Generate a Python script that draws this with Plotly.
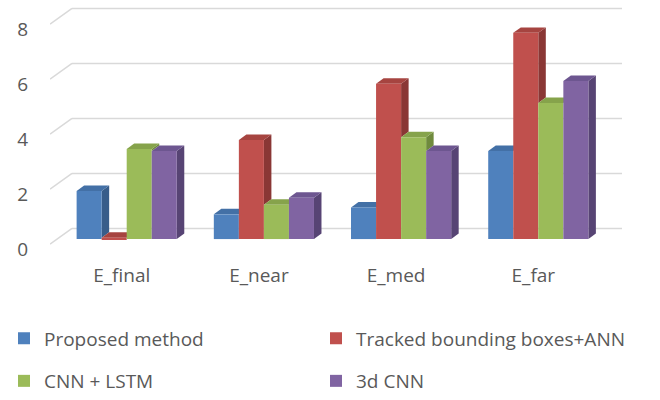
import plotly.graph_objects as go

# ---------------- data ----------------
categories = ["E_final", "E_near", "E_med", "E_far"]
series_names = ["Proposed method", "Tracked bounding boxes+ANN", "CNN + LSTM", "3d CNN"]
proposed = [1.75, 0.9, 1.15, 3.2]
tracked = [0.05, 3.6, 5.65, 7.5]
cnn_lstm = [3.28, 1.25, 3.7, 4.95]
cnn3d = [3.2, 1.5, 3.2, 5.75]
y_ticks = [0, 2, 4, 6, 8]

series_values = [proposed, tracked, cnn_lstm, cnn3d]

# ---------------- styles ----------------
front_colors = ["#4F81BD", "#C0504D", "#9BBB59", "#8064A2"]
top_colors = ["#4370A6", "#A64440", "#86A34B", "#6D5690"]
side_colors = ["#385D8A", "#8A3735", "#6F8A3D", "#574474"]
text_color = "#595959"
grid_color = "#D9D9D9"
FONT = "Open Sans"

# ---------------- geometry (pixel based) ----------------
W, H = 660, 400
ML, MR, MT = 50, 30, 0
PLOT_BOTTOM = 262
MB = H - PLOT_BOTTOM
PX_X = 137.2          # px per category unit
PX_Y = 27.6           # px per value unit
GROUP0_PX = 126.7     # pixel of first group centre
BASE_PX = 240         # pixel of bar baseline
plot_w = W - ML - MR
x0 = -(GROUP0_PX - ML) / PX_X
x_range = [x0, x0 + plot_w / PX_X]
y_range = [-(PLOT_BOTTOM - BASE_PX) / PX_Y, (BASE_PX - MT) / PX_Y]

BARGAP = 0.27
n_series = len(series_values)
bw = (1 - BARGAP) / n_series
DX = 7.5 / PX_X       # depth offset of bars
DY = 5.5 / PX_Y
FRONT_SHIFT = 5 / PX_Y     # front plane lies below bar plane
LABEL_SHIFT_Y = 10 / PX_Y  # tick label placement
BACK_SHIFT = 10.7 / PX_Y   # back wall lies above bar plane
WALL_X0 = (72 - GROUP0_PX) / PX_X
WALL_X1 = (622 - GROUP0_PX) / PX_X
LABEL_SHIFT = 5 / PX_X

xpos = list(range(len(categories)))

fig = go.Figure()
for k, (name, vals) in enumerate(zip(series_names, series_values)):
    fig.add_trace(go.Bar(
        x=xpos, y=vals, name=name,
        marker=dict(color=front_colors[k], line=dict(width=0)),
        legend="legend" if k < 2 else "legend2",
        hovertemplate=name + ": %{y}<extra></extra>",
    ))

shapes = []
# back wall gridlines + side wall diagonals
for v in y_ticks:
    shapes.append(dict(type="line", xref="x", yref="y", layer="below",
                       x0=WALL_X0, x1=WALL_X1, y0=v + BACK_SHIFT, y1=v + BACK_SHIFT,
                       line=dict(color=grid_color, width=1.5)))
    shapes.append(dict(type="line", xref="x", yref="y", layer="below",
                       x0=x_range[0], x1=WALL_X0, y0=v - FRONT_SHIFT, y1=v + BACK_SHIFT,
                       line=dict(color=grid_color, width=1.5)))

# 3D faces (top and right side) of the bars
for i in xpos:
    for k in range(n_series):
        v = series_values[k][i]
        xl = i - (1 - BARGAP) / 2 + k * bw
        xr = xl + bw
        lower = series_values[k + 1][i] if k < n_series - 1 else 0
        if lower < v:
            path = (f"M {xr},{lower} L {xr},{v} L {xr + DX},{v + DY} "
                    f"L {xr + DX},{lower + DY} Z")
            shapes.append(dict(type="path", path=path, xref="x", yref="y", layer="below",
                               fillcolor=side_colors[k], line=dict(width=0)))
        path = (f"M {xl},{v} L {xl + DX},{v + DY} L {xr + DX},{v + DY} L {xr},{v} Z")
        shapes.append(dict(type="path", path=path, xref="x", yref="y", layer="below",
                           fillcolor=top_colors[k], line=dict(width=0)))

legend_common = dict(orientation="h", xanchor="left", yanchor="middle",
                     bgcolor="rgba(0,0,0,0)", entrywidth=267, entrywidthmode="pixels",
                     font=dict(family=FONT, size=19, color=text_color),
                     itemclick=False, itemdoubleclick=False)

LEG_X = (4 - ML) / plot_w

fig.update_layout(
    width=W, height=H,
    margin=dict(l=ML, r=MR, t=MT, b=MB),
    paper_bgcolor="white", plot_bgcolor="white",
    barmode="group", bargap=BARGAP, bargroupgap=0,
    font=dict(family=FONT, size=19, color=text_color),
    shapes=shapes,
    xaxis=dict(range=x_range, tickvals=[i - LABEL_SHIFT for i in xpos], ticktext=categories,
               showgrid=False, zeroline=False, showline=False, ticks="",
               ticklabelstandoff=1,
               tickfont=dict(family=FONT, size=19, color=text_color)),
    yaxis=dict(range=y_range, tickvals=[v - LABEL_SHIFT_Y for v in y_ticks],
               ticktext=[str(v) for v in y_ticks],
               showgrid=False, zeroline=False, showline=False, ticks="",
               ticklabelstandoff=21,
               tickfont=dict(family=FONT, size=19, color=text_color)),
    legend=dict(x=LEG_X, y=(PLOT_BOTTOM - 338.5) / (PLOT_BOTTOM - MT), **legend_common),
    legend2=dict(x=LEG_X, y=(PLOT_BOTTOM - 383) / (PLOT_BOTTOM - MT), **legend_common),
    showlegend=True,
)

fig.write_html("out.html")
